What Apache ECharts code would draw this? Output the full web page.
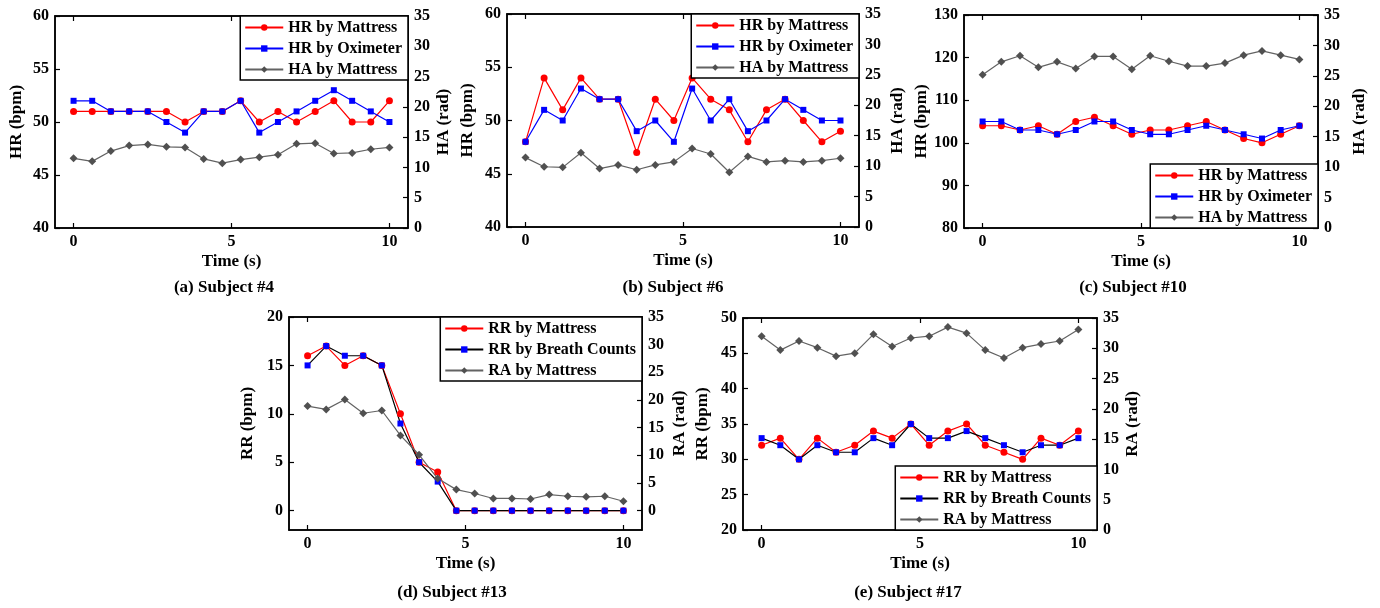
<!DOCTYPE html>
<html><head><meta charset="utf-8">
<script src="https://cdn.jsdelivr.net/npm/echarts@6/dist/echarts.min.js"></script>
<style>html,body{margin:0;padding:0;background:#fff}#c{width:1380px;height:608px}</style>
</head><body><div id="c"></div>
<script>
// ---- data ----
const time = [0, 0.59, 1.18, 1.76, 2.35, 2.94, 3.53, 4.12, 4.71, 5.29, 5.88, 6.47, 7.06, 7.65, 8.24, 8.82, 9.41, 10];
const xTicks = [0, 5, 10];

// (a) Subject #4
const hrMattressA = [51, 51, 51, 51, 51, 51, 50, 51, 51, 52, 50, 51, 50, 51, 52, 50, 50, 52];
const hrOximeterA = [52, 52, 51, 51, 51, 50, 49, 51, 51, 52, 49, 50, 51, 52, 53, 52, 51, 50];
const haMattressA = [11.5, 11.0, 12.7, 13.6, 13.8, 13.4, 13.3, 11.4, 10.7, 11.3, 11.7, 12.1, 13.9, 14.0, 12.3, 12.4, 13.0, 13.3];
// (b) Subject #6
const hrMattressB = [48, 54, 51, 54, 52, 52, 47, 52, 50, 54, 52, 51, 48, 51, 52, 50, 48, 49];
const hrOximeterB = [48, 51, 50, 53, 52, 52, 49, 50, 48, 53, 50, 52, 49, 50, 52, 51, 50, 50];
const haMattressB = [11.4, 9.9, 9.8, 12.2, 9.6, 10.2, 9.4, 10.2, 10.7, 12.9, 12.0, 9.0, 11.6, 10.7, 10.9, 10.7, 10.9, 11.3];
// (c) Subject #10
const hrMattressC = [104, 104, 103, 104, 102, 105, 106, 104, 102, 103, 103, 104, 105, 103, 101, 100, 102, 104];
const hrOximeterC = [105, 105, 103, 103, 102, 103, 105, 105, 103, 102, 102, 103, 104, 103, 102, 101, 103, 104];
const haMattressC = [25.2, 27.3, 28.3, 26.4, 27.3, 26.2, 28.2, 28.2, 26.1, 28.3, 27.4, 26.6, 26.6, 27.1, 28.4, 29.1, 28.4, 27.7];
// (d) Subject #13
const rrMattressD = [16, 17, 15, 16, 15, 10, 5, 4, 0, 0, 0, 0, 0, 0, 0, 0, 0, 0];
const rrBreathD = [15, 17, 16, 16, 15, 9, 5, 3, 0, 0, 0, 0, 0, 0, 0, 0, 0, 0];
const raMattressD = [18.9, 18.3, 20.1, 17.6, 18.1, 13.6, 10.1, 5.8, 3.8, 3.1, 2.2, 2.2, 2.1, 2.9, 2.6, 2.5, 2.6, 1.7];
// (e) Subject #17
const rrMattressE = [32, 33, 30, 33, 31, 32, 34, 33, 35, 32, 34, 35, 32, 31, 30, 33, 32, 34];
const rrBreathE = [33, 32, 30, 32, 31, 31, 33, 32, 35, 33, 33, 34, 33, 32, 31, 32, 32, 33];
const raMattressE = [32.0, 29.7, 31.2, 30.1, 28.7, 29.2, 32.3, 30.3, 31.7, 32.0, 33.5, 32.5, 29.7, 28.4, 30.1, 30.7, 31.2, 33.1];

const ticksHR40 = [40, 45, 50, 55, 60];
const ticksHR80 = [80, 90, 100, 110, 120, 130];
const ticksRR0 = [0, 5, 10, 15, 20];
const ticksRR20 = [20, 25, 30, 35, 40, 45, 50];
const ticksRad = [0, 5, 10, 15, 20, 25, 30, 35];

// ---- styles ----
const FONT = 'Liberation Serif';
const RED = '#ff0000', BLUE = '#0000ff', GRAY_L = '#636363', GRAY_M = '#505050';
const W = 1380, H = 608;

const panels = [
  { grid: { left: 55, top: 16, width: 353, height: 212 },
    yL: { min: 40, max: 60, ticks: ticksHR40, name: 'HR (bpm)', gap: 30 },
    yR: { min: 0, max: 35, ticks: ticksRad, name: 'HA (rad)', gap: 27 },
    s: [['HR by Mattress', hrMattressA, RED, RED, 'circle', 7, 0],
        ['HR by Oximeter', hrOximeterA, BLUE, BLUE, 'rect', 6, 0],
        ['HA by Mattress', haMattressA, GRAY_L, GRAY_M, 'diamond', 8, 1]],
    legendTop: true, caption: '(a) Subject #4', cx: 224, cy: 288 },
  { grid: { left: 507, top: 14, width: 352, height: 213 },
    yL: { min: 40, max: 60, ticks: ticksHR40, name: 'HR (bpm)', gap: 31 },
    yR: { min: 0, max: 35, ticks: ticksRad, name: 'HA (rad)', gap: 30 },
    s: [['HR by Mattress', hrMattressB, RED, RED, 'circle', 7, 0],
        ['HR by Oximeter', hrOximeterB, BLUE, BLUE, 'rect', 6, 0],
        ['HA by Mattress', haMattressB, GRAY_L, GRAY_M, 'diamond', 8, 1]],
    legendTop: true, caption: '(b) Subject #6', cx: 673, cy: 288 },
  { grid: { left: 964, top: 15, width: 354, height: 213 },
    yL: { min: 80, max: 130, ticks: ticksHR80, name: 'HR (bpm)', gap: 29 },
    yR: { min: 0, max: 35, ticks: ticksRad, name: 'HA (rad)', gap: 33 },
    s: [['HR by Mattress', hrMattressC, RED, RED, 'circle', 7, 0],
        ['HR by Oximeter', hrOximeterC, BLUE, BLUE, 'rect', 6, 0],
        ['HA by Mattress', haMattressC, GRAY_L, GRAY_M, 'diamond', 8, 1]],
    legendTop: false, caption: '(c) Subject #10', cx: 1133, cy: 288 },
  { grid: { left: 289, top: 317, width: 353, height: 213 },
    yL: { min: -2, max: 20, ticks: ticksRR0, name: 'RR (bpm)', gap: 33 },
    yR: { min: -3.5, max: 35, ticks: ticksRad, name: 'RA (rad)', gap: 29 },
    s: [['RR by Mattress', rrMattressD, RED, RED, 'circle', 7, 0],
        ['RR by Breath Counts', rrBreathD, '#000000', BLUE, 'rect', 6, 0],
        ['RA by Mattress', raMattressD, GRAY_L, GRAY_M, 'diamond', 8, 1]],
    legendTop: true, caption: '(d) Subject #13', cx: 452, cy: 593 },
  { grid: { left: 743, top: 318, width: 354, height: 212 },
    yL: { min: 20, max: 50, ticks: ticksRR20, name: 'RR (bpm)', gap: 32 },
    yR: { min: 0, max: 35, ticks: ticksRad, name: 'RA (rad)', gap: 27 },
    s: [['RR by Mattress', rrMattressE, RED, RED, 'circle', 7, 0],
        ['RR by Breath Counts', rrBreathE, '#000000', BLUE, 'rect', 6, 0],
        ['RA by Mattress', raMattressE, GRAY_L, GRAY_M, 'diamond', 8, 1]],
    legendTop: false, caption: '(e) Subject #17', cx: 908, cy: 593 }
];

const txt = (size) => ({ fontFamily: FONT, fontWeight: 'bold', fontSize: size, color: '#000' });
const lineSt = { color: '#000', width: 1.5 };

const option = { animation: false, backgroundColor: '#fff', grid: [], xAxis: [], yAxis: [], series: [], legend: [], graphic: [] };

panels.forEach((p, i) => {
  option.grid.push(Object.assign({ show: true, borderColor: '#000', borderWidth: 1.5, backgroundColor: 'transparent', containLabel: false }, p.grid));
  const xmin = -0.588, xmax = 10.588;
  option.xAxis.push({
    gridIndex: i, type: 'value', position: 'bottom', min: xmin, max: xmax,
    axisLine: { show: true, onZero: false, lineStyle: lineSt },
    axisTick: { show: true, inside: true, length: 5, customValues: xTicks, lineStyle: { color: '#000', width: 1.2 } },
    axisLabel: { customValues: xTicks, margin: 6, ...txt(16) },
    splitLine: { show: false },
    name: 'Time (s)', nameLocation: 'middle', nameGap: 25, nameTextStyle: txt(17)
  });
  option.xAxis.push({
    gridIndex: i, type: 'value', position: 'top', min: xmin, max: xmax,
    axisLine: { show: true, onZero: false, lineStyle: lineSt },
    axisTick: { show: true, inside: true, length: 5, customValues: xTicks, lineStyle: { color: '#000', width: 1.2 } },
    axisLabel: { show: false, customValues: xTicks },
    splitLine: { show: false }
  });
  option.yAxis.push({
    gridIndex: i, type: 'value', position: 'left', min: p.yL.min, max: p.yL.max,
    axisLine: { show: true, onZero: false, lineStyle: lineSt },
    axisTick: { show: true, inside: true, length: 5, customValues: p.yL.ticks, lineStyle: { color: '#000', width: 1.2 } },
    axisLabel: { customValues: p.yL.ticks, margin: 6, ...txt(16) },
    splitLine: { show: false },
    name: p.yL.name, nameLocation: 'middle', nameGap: p.yL.gap, nameRotate: 90, nameTextStyle: txt(17)
  });
  option.yAxis.push({
    gridIndex: i, type: 'value', position: 'right', min: p.yR.min, max: p.yR.max,
    axisLine: { show: true, onZero: false, lineStyle: lineSt },
    axisTick: { show: true, inside: true, length: 5, customValues: p.yR.ticks, lineStyle: { color: '#000', width: 1.2 } },
    axisLabel: { customValues: p.yR.ticks, margin: 6, ...txt(16) },
    splitLine: { show: false },
    name: p.yR.name, nameLocation: 'middle', nameGap: p.yR.gap, nameRotate: 90, nameTextStyle: txt(17)
  });
  p.s.forEach(([name, arr, lc, mc, sym, size, ax]) => {
    option.series.push({
      type: 'line', name, xAxisIndex: i * 2, yAxisIndex: i * 2 + ax,
      data: time.map((t, k) => [t, arr[k]]),
      symbol: sym, symbolSize: size, showAllSymbol: true,
      lineStyle: { color: lc, width: 1.2 },
      itemStyle: { color: mc, borderWidth: 0 },
      emphasis: { disabled: true }
    });
  });
  const right = W - (p.grid.left + p.grid.width);
  const lg = {
    orient: 'vertical', right: right, align: 'left', selectedMode: false,
    data: p.s.map(s => s[0]),
    borderColor: '#000', borderWidth: 1.5, borderRadius: 0, backgroundColor: '#fff',
    padding: [3, 6, 2, 4], itemGap: 4, itemWidth: 38, itemHeight: 8,
    textStyle: Object.assign(txt(16), { lineHeight: 17 }), z: 10
  };
  if (p.legendTop) lg.top = p.grid.top; else lg.bottom = H - (p.grid.top + p.grid.height);
  option.legend.push(lg);
  option.graphic.push({
    type: 'text', x: p.cx, y: p.cy,
    style: { text: p.caption, fontFamily: FONT, fontWeight: 'bold', fontSize: 17, fill: '#000', align: 'center', verticalAlign: 'middle' }
  });
});

const chart = echarts.init(document.getElementById('c'), null, { renderer: 'canvas' });
chart.setOption(option);
</script>
</body></html>
